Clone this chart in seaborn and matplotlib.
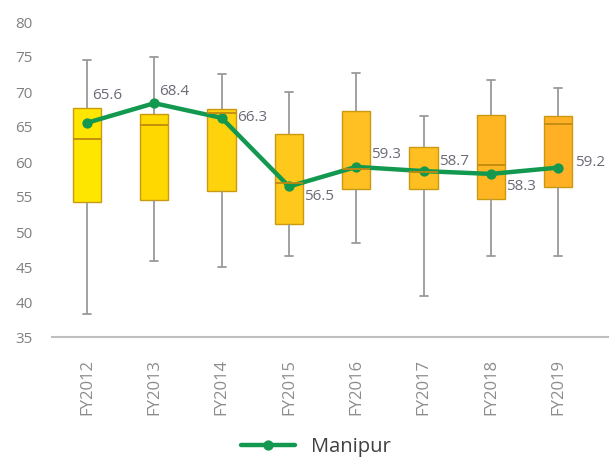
import numpy as np
import pandas as pd
import matplotlib
matplotlib.use("Agg")
import matplotlib.pyplot as plt
import seaborn as sns

years = ["FY2012", "FY2013", "FY2014", "FY2015", "FY2016", "FY2017", "FY2018", "FY2019"]

# five-number summaries per year (min, Q1, median, Q3, max)
whisker_low = [38.3, 45.8, 45.0, 46.5, 48.4, 40.8, 46.6, 46.5]
q1 = [54.3, 54.5, 55.8, 51.1, 56.1, 56.1, 54.7, 56.4]
median = [63.3, 65.3, 67.0, 57.0, 59.0, 58.5, 59.6, 65.4]
q3 = [67.7, 66.9, 67.6, 64.0, 67.3, 62.1, 66.7, 66.5]
whisker_high = [74.6, 75.0, 72.6, 70.0, 72.7, 66.5, 71.7, 70.6]

manipur = [65.6, 68.4, 66.3, 56.5, 59.3, 58.7, 58.3, 59.2]

box_colors = ["#FFE600", "#FFD800", "#FFD20E", "#FFC81C", "#FFC023", "#FFBF20", "#FFB622", "#FFB024"]

rows = []
for yr, lo, a, m, b, hi in zip(years, whisker_low, q1, median, q3, whisker_high):
    for v in (lo, a, m, b, hi):
        rows.append({"year": yr, "value": v})
box_df = pd.DataFrame(rows)
line_df = pd.DataFrame({"year": years, "value": manipur})

sns.set_theme(style="white")
plt.rcParams["font.family"] = ["Open Sans", "DejaVu Sans"]

fig = plt.figure(figsize=(6.13, 4.61), dpi=100)
ax = fig.add_axes([52 / 613, 1 - 337 / 461, (608 - 52) / 613, (337 - 22) / 461])

sns.boxplot(
    data=box_df, x="year", y="value", hue="year", palette=box_colors,
    legend=False, whis=(0, 100), width=0.42, saturation=1, ax=ax,
    linecolor="#C99A10", linewidth=1.0,
    whiskerprops=dict(color="#9A9A9A", linewidth=1.3),
    capprops=dict(color="#9A9A9A", linewidth=1.3),
    medianprops=dict(color="#C08A10", linewidth=1.3),
)
# shorter caps
for ln in ax.lines:
    xd = ln.get_xdata()
    yd = ln.get_ydata()
    if len(xd) == 2 and yd[0] == yd[1] and abs(xd[1] - xd[0]) > 0.1:
        if ln.get_color() in ("#9A9A9A", "#9a9a9a"):
            c = (xd[0] + xd[1]) / 2
            ln.set_xdata([c - 0.06, c + 0.06])

sns.pointplot(
    data=line_df, x="year", y="value", color="#13994F", markers="o",
    linewidth=3.2, markersize=5, label="Manipur", ax=ax, errorbar=None,
)

# label offsets in pixels (dx, dy up)
offsets_px = [(5, 27), (5, 12), (15, 0), (15, -10), (15, 12), (15, 10), (15, -13), (17, 5)]
for i, (v, (dx, dy)) in enumerate(zip(manipur, offsets_px)):
    ax.annotate(f"{v:.1f}", (i, v), xytext=(dx * 0.72, dy * 0.72), textcoords="offset points",
                ha="left", va="center", fontsize=11, color="#6B6B78")

ax.set_ylim(35, 80)
ax.set_xlim(-0.52, 7.74)
ax.set_yticks(np.arange(35, 81, 5))
ax.set_xlabel("")
ax.set_ylabel("")
for side in ("top", "right", "left"):
    ax.spines[side].set_visible(False)
ax.spines["bottom"].set_color("#BFBFBF")
ax.spines["bottom"].set_linewidth(1.5)
ax.tick_params(axis="y", length=0, pad=14, labelsize=11, labelcolor="#808080")
ax.tick_params(axis="x", length=0, pad=16, labelsize=12, labelcolor="#8C8C8C", rotation=90)

leg = ax.legend(loc="center", bbox_to_anchor=(0.475, -0.35), frameon=False,
                fontsize=14.5, handlelength=2.7, labelcolor="#404040")

fig.savefig("out.png", dpi=100)
